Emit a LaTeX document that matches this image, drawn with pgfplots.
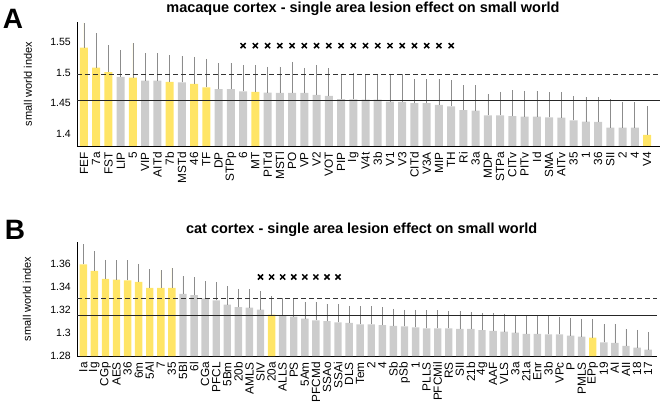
\documentclass[border=0pt]{standalone}
\usepackage{pgfplots}
\usepackage{pgfplotstable}
\pgfplotsset{compat=1.18}
\usepackage{fontspec}
\setmainfont{Liberation Sans}
\definecolor{yel}{HTML}{FFE566}
\definecolor{gbar}{HTML}{CCCCCC}
\definecolor{ebar}{HTML}{8C8C8C}

% macaque: x, value, upper end of error bar
\pgfplotstableread{
x y t
0 1.5410 1.5815
1 1.5080 1.5640
2 1.5010 1.5450
4 1.4920 1.5480
7 1.4850 1.5290
9 1.4815 1.5260
10 1.4760 1.5230
14 1.4685 1.5125
46 1.3984 1.4457
}\macY
\pgfplotstableread{
x y t
3 1.4930 1.5370
5 1.4870 1.5320
6 1.4870 1.5320
8 1.4840 1.5270
11 1.4730 1.5160
12 1.4730 1.5160
13 1.4695 1.5125
15 1.4675 1.5100
16 1.4670 1.5100
17 1.4670 1.5180
18 1.4670 1.5080
19 1.4636 1.5125
20 1.4620 1.5070
21 1.4570 1.4980
22 1.4566 1.4990
23 1.4560 1.4980
24 1.4560 1.4980
25 1.4527 1.4980
26 1.4522 1.4980
27 1.4505 1.4900
28 1.4505 1.4900
29 1.4473 1.4890
30 1.4451 1.4880
31 1.4391 1.4794
32 1.4380 1.4794
33 1.4304 1.4647
34 1.4304 1.4690
35 1.4293 1.4717
36 1.4283 1.4706
37 1.4283 1.4706
38 1.4272 1.4680
39 1.4266 1.4680
40 1.4223 1.4620
41 1.4201 1.4609
42 1.4196 1.4609
43 1.4103 1.4566
44 1.4103 1.4522
45 1.4103 1.4522
}\macG

% cat
\pgfplotstableread{
x y t
0 1.3594 1.3767
1 1.3536 1.3709
2 1.3467 1.3635
3 1.3461 1.3629
4 1.3455 1.3629
5 1.3441 1.3600
6 1.3389 1.3553
7 1.3389 1.3542
8 1.3389 1.3565
17 1.3158 1.3317
46 1.2959 1.3124
}\catY
\pgfplotstableread{
x y t
9 1.3337 1.3490
10 1.3328 1.3484
11 1.3300 1.3449
12 1.3282 1.3441
13 1.3245 1.3403
14 1.3224 1.3384
15 1.3219 1.3378
16 1.3202 1.3360
18 1.3146 1.3302
19 1.3141 1.3297
20 1.3124 1.3268
21 1.3109 1.3268
22 1.3103 1.3254
23 1.3092 1.3248
24 1.3086 1.3236
25 1.3074 1.3230
26 1.3074 1.3230
27 1.3068 1.3224
28 1.3060 1.3210
29 1.3057 1.3202
30 1.3048 1.3202
31 1.3040 1.3196
32 1.3040 1.3196
33 1.3040 1.3190
34 1.3034 1.3190
35 1.3034 1.3181
36 1.3023 1.3172
37 1.3017 1.3172
38 1.3011 1.3167
39 1.3003 1.3152
40 1.2991 1.3152
41 1.2991 1.3152
42 1.2988 1.3146
43 1.2988 1.3138
44 1.2977 1.3132
45 1.2968 1.3124
47 1.2919 1.3074
48 1.2913 1.3081
49 1.2887 1.3037
50 1.2873 1.3028
51 1.2855 1.3008
}\catG

\pgfplotsset{
  panel/.style={
    scale only axis,
    axis x line=bottom, axis y line=left,
    axis line style={-, black, line width=0.9pt},
    major tick length=0pt,
    clip=true,
    /pgf/number format/assume math mode=true,
    yticklabel style={font=\fontsize{10.5}{10.5}\selectfont, inner sep=0pt, xshift=-6pt},
    xticklabel style={font=\fontsize{11.8}{11.8}\selectfont, rotate=90, anchor=east, inner sep=0pt},
    xticklabel shift=6pt,
    ylabel={small world index},
    ylabel style={font=\fontsize{11}{11}\selectfont, anchor=center},
  },
  errs/.style={
    error bars/y dir=plus, error bars/y explicit, error bars/error mark=none,
    error bars/error bar style={draw=ebar, solid, line width=0.6pt}},
  barsY/.style={ybar, bar shift=0pt, fill=yel, draw=none, errs},
  barsG/.style={ybar, bar shift=0pt, fill=gbar, draw=none, errs},
  crosses/.style={only marks, mark=x, mark size=3.6pt, black,
    mark options={line width=1.5pt}},
}

\begin{document}
\begin{tikzpicture}
\path[use as bounding box] (0pt,0pt) rectangle (661pt,407pt);

\node[font=\bfseries\fontsize{28}{28}\selectfont, anchor=base] at (13pt,378.7pt) {A};
\node[font=\bfseries\fontsize{14.5}{15}\selectfont, anchor=base] at (363pt,394.3pt) {macaque cortex - single area lesion effect on small world};

\begin{axis}[panel,
  at={(77pt,261pt)}, anchor=south west,
  width=583pt, height=124pt,
  xmin=-0.57, xmax=47.06, ymin=1.3804, ymax=1.5826,
  ytick={1.4,1.45,1.5,1.55},
  xtick={0,...,46},
  xticklabels={FEF,7a,FST,LIP,5,VIP,AITd,7b,MSTd,46,TF,DP,STPp,6,MT,PITd,MSTl,PO,VP,V2,VOT,PIP,Ig,V4t,3b,V1,V3,CITd,V3A,MIP,TH,Ri,3a,MDP,STPa,CITv,PITv,Id,SMA,AITv,35,1,36,SII,2,4,V4},
  ylabel style={at={(axis description cs:-0.0843,0.5)}},
]
\addplot[bar width=8pt, barsY] table[x=x, y=y, y error expr=\thisrow{t}-\thisrow{y}] {\macY};
\addplot[bar width=8pt, barsG] table[x=x, y=y, y error expr=\thisrow{t}-\thisrow{y}] {\macG};
\addplot[black!80, line width=0.6pt, dash pattern=on 5pt off 3pt] coordinates {(-0.57,1.4967) (47.06,1.4967)};
\addplot[black!85, line width=0.6pt] coordinates {(-0.57,1.4555) (47.06,1.4555)};
\addplot[crosses] coordinates {
(13,1.544) (14,1.544) (15,1.544) (16,1.544) (17,1.544) (18,1.544) (19,1.544) (20,1.544) (21,1.544)
(22,1.544) (23,1.544) (24,1.544) (25,1.544) (26,1.544) (27,1.544) (28,1.544) (29,1.544) (30,1.544)};
\end{axis}

\node[font=\bfseries\fontsize{28}{28}\selectfont, anchor=base] at (15pt,167.7pt) {B};
\node[font=\bfseries\fontsize{14.5}{15}\selectfont, anchor=base] at (361.7pt,173pt) {cat cortex - single area lesion effect on small world};

\begin{axis}[panel,
  at={(77pt,51pt)}, anchor=south west,
  width=580pt, height=114pt,
  xmin=-0.57, xmax=51.8, ymin=1.28, ymax=1.3787,
  ytick={1.28,1.3,1.32,1.34,1.36},
  xtick={0,...,51},
  xticklabels={Ia,Ig,CGp,AES,36,6m,5Al,7,35,5Bl,6l,CGa,PFCL,5Bm,20b,AMLS,SIV,20a,ALLS,PS,5Am,PFCMd,SSAo,SSAi,DLS,Tem,2,4,Sb,pSb,1,PLLS,PFCMil,RS,SII,21b,4g,AAF,VLS,3a,21a,Enr,3b,VPc,P,PMLS,EPp,19,AI,AII,18,17},
  ylabel style={at={(axis description cs:-0.0862,0.5)}},
]
\addplot[bar width=7.4pt, barsY] table[x=x, y=y, y error expr=\thisrow{t}-\thisrow{y}] {\catY};
\addplot[bar width=7.4pt, barsG] table[x=x, y=y, y error expr=\thisrow{t}-\thisrow{y}] {\catG};
\addplot[black!80, line width=0.6pt, dash pattern=on 5pt off 3pt] coordinates {(-0.57,1.330) (51.8,1.330)};
\addplot[black!85, line width=0.6pt] coordinates {(-0.57,1.315) (51.8,1.315)};
\addplot[crosses] coordinates {
(16,1.3484) (17,1.3484) (18,1.3484) (19,1.3484) (20,1.3484) (21,1.3484) (22,1.3484) (23,1.3484)};
\end{axis}
\end{tikzpicture}
\end{document}
